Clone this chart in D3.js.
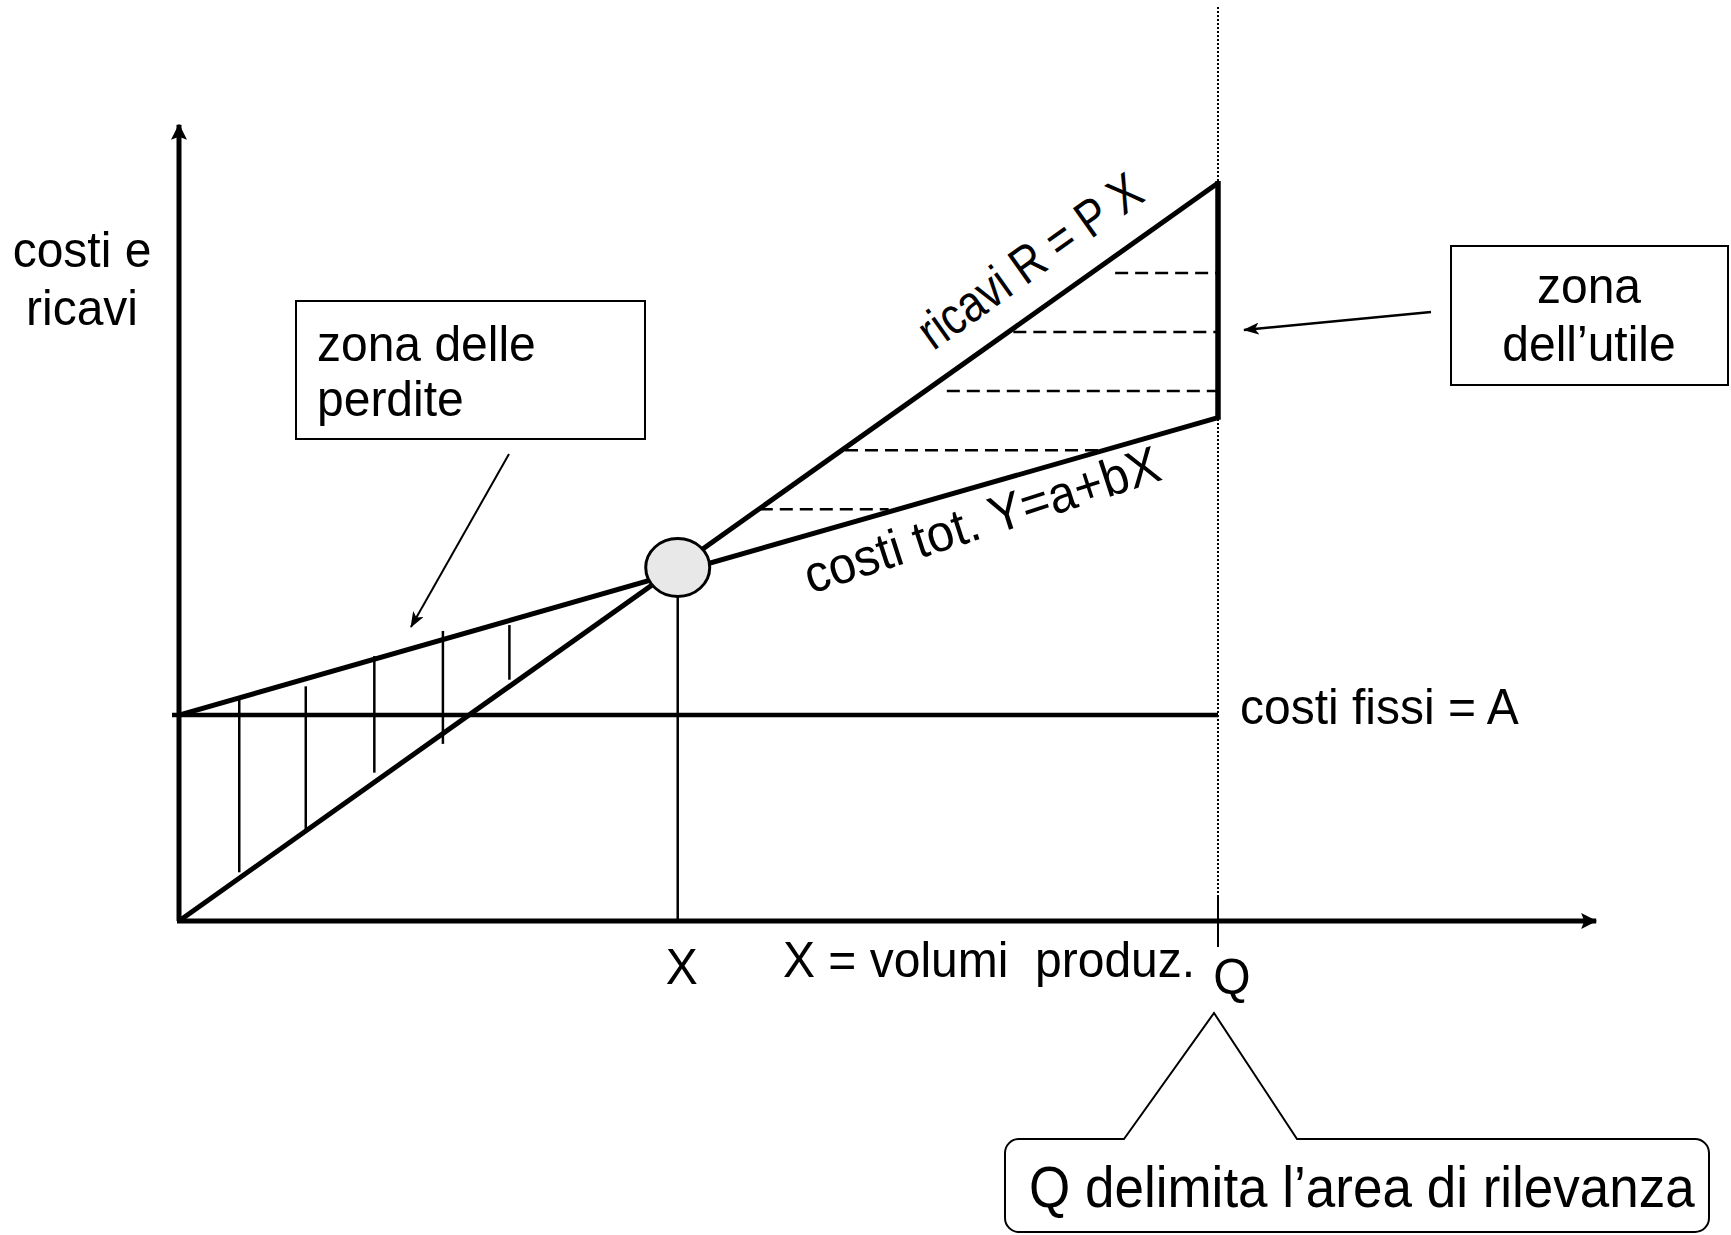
<!DOCTYPE html>
<html>
<head>
<meta charset="utf-8">
<script src="https://cdn.jsdelivr.net/npm/d3@7"></script>
<style>
  body { margin: 0; background: #fff; }
  text { font-family: "Liberation Sans", Arial, sans-serif; fill: #000; white-space: pre; }
</style>
</head>
<body>
<div id="chart"></div>
<script>
// break-even chart, volumes on x and costs / revenues on y (Q = 100)
const Q = 100;
const xEnd = 136.4;       // x axis arrow
const yEnd = 107.9;       // y axis arrow
const fixedCost = 27.9;   // A
const revenue = [[0, 0], [100, 100]];        // R = P X
const totalCost = [[0, 27.9], [100, 68.2]];  // Y = a + bX
const breakEven = [48.0, 47.9];

// vertical strokes in the loss zone
const lossX = [5.8, 12.2, 18.8, 25.4, 31.8];
const lossLow = [6.6, 12.1, 20.1, 24.0, 32.7];
const lossHigh = [30.2, 31.8, 35.9, 39.3, 40.1];

// dashed strokes in the profit zone
const profitY = [87.8, 79.8, 71.8, 63.8, 55.8];
const profitFrom = [90.1, 80.3, 73.9, 64.1, 55.9];
const profitTo = [100, 100, 100, 88.7, 68.3];

// texts
const yLabel = ["costi e", "ricavi"];
const xLabel = "X = volumi  produz.";
const lossLabel = ["zona delle", "perdite"];
const profitLabel = ["zona", "dell\u2019utile"];
const revenueLabel = "ricavi R = P X";
const costLabel = "costi tot. Y=a+bX";
const fixedLabel = "costi fissi = A";
const beLabel = "X";
const qLabel = "Q";
const noteLabel = "Q delimita l\u2019area di rilevanza";

const width = 1731;
const height = 1235;

const svg = d3
  .select("#chart")
  .append("svg")
  .attr("width", width)
  .attr("height", height)
  .attr("viewBox", [0, 0, width, height]);

const x = d3.scaleLinear().domain([0, Q]).range([179, 1218]);
const y = d3.scaleLinear().domain([0, 100]).range([921, 183]);

const defs = svg.append("defs");
defs
  .append("marker")
  .attr("id", "axisHead")
  .attr("viewBox", "0 -8 16 16")
  .attr("refX", 15)
  .attr("refY", 0)
  .attr("markerWidth", 16)
  .attr("markerHeight", 16)
  .attr("markerUnits", "userSpaceOnUse")
  .attr("orient", "auto")
  .append("path")
  .attr("d", "M0,-8L16,0L0,8L3,0Z");
defs
  .append("marker")
  .attr("id", "noteHead")
  .attr("viewBox", "0 -6 16 12")
  .attr("refX", 15)
  .attr("refY", 0)
  .attr("markerWidth", 16)
  .attr("markerHeight", 12)
  .attr("markerUnits", "userSpaceOnUse")
  .attr("orient", "auto")
  .append("path")
  .attr("d", "M0,-6L16,0L0,6L4,0Z");

const line = d3
  .line()
  .x((d) => x(d[0]))
  .y((d) => y(d[1]));

// text helper: the original lettering is a bit narrow
function label(text, px, py, size, anchor = "start", angle = 0, sx = 0.96) {
  svg
    .append("text")
    .attr("transform", `translate(${px},${py}) rotate(${angle}) scale(${sx},1)`)
    .attr("font-size", size)
    .attr("text-anchor", anchor)
    .text(text);
}

// dotted limit at Q
svg
  .append("line")
  .attr("x1", x(Q))
  .attr("x2", x(Q))
  .attr("y1", 7)
  .attr("y2", y(0) - 26)
  .attr("stroke", "#000")
  .attr("stroke-width", 2)
  .attr("stroke-dasharray", "2,2");
svg
  .append("line")
  .attr("x1", x(Q))
  .attr("x2", x(Q))
  .attr("y1", y(0) - 26)
  .attr("y2", y(0) + 26)
  .attr("stroke", "#000")
  .attr("stroke-width", 2);

// axes
svg
  .append("line")
  .attr("x1", x(0))
  .attr("x2", x(0))
  .attr("y1", y(0))
  .attr("y2", y(yEnd))
  .attr("stroke", "#000")
  .attr("stroke-width", 5)
  .attr("marker-end", "url(#axisHead)");
svg
  .append("line")
  .attr("x1", x(0) - 2)
  .attr("x2", x(xEnd))
  .attr("y1", y(0))
  .attr("y2", y(0))
  .attr("stroke", "#000")
  .attr("stroke-width", 5)
  .attr("marker-end", "url(#axisHead)");

// loss zone strokes
svg
  .append("g")
  .selectAll()
  .data(lossX)
  .join("line")
  .attr("x1", (d) => x(d))
  .attr("x2", (d) => x(d))
  .attr("y1", (d, i) => y(lossLow[i]))
  .attr("y2", (d, i) => y(lossHigh[i]))
  .attr("stroke", "#000")
  .attr("stroke-width", 2.5);

// profit zone strokes
svg
  .append("g")
  .selectAll()
  .data(profitY)
  .join("line")
  .attr("x1", (d, i) => x(profitFrom[i]))
  .attr("x2", (d, i) => x(profitTo[i]))
  .attr("y1", (d) => y(d))
  .attr("y2", (d) => y(d))
  .attr("stroke", "#000")
  .attr("stroke-width", 2.5)
  .attr("stroke-dasharray", "13,7");

// fixed costs
svg
  .append("line")
  .attr("x1", x(0) - 7)
  .attr("x2", x(Q))
  .attr("y1", y(fixedCost))
  .attr("y2", y(fixedCost))
  .attr("stroke", "#000")
  .attr("stroke-width", 4.5);

// break-even drop line
svg
  .append("line")
  .attr("x1", x(breakEven[0]))
  .attr("x2", x(breakEven[0]))
  .attr("y1", y(breakEven[1]))
  .attr("y2", y(0))
  .attr("stroke", "#000")
  .attr("stroke-width", 2.5);

// revenue and total costs
svg
  .append("path")
  .attr("d", line(revenue))
  .attr("fill", "none")
  .attr("stroke", "#000")
  .attr("stroke-width", 5);
svg
  .append("path")
  .attr("d", line(totalCost))
  .attr("fill", "none")
  .attr("stroke", "#000")
  .attr("stroke-width", 5);

// profit at Q
svg
  .append("line")
  .attr("x1", x(Q))
  .attr("x2", x(Q))
  .attr("y1", y(revenue[1][1]) - 2)
  .attr("y2", y(totalCost[1][1]) + 2)
  .attr("stroke", "#000")
  .attr("stroke-width", 5.5);

// break-even point
svg
  .append("ellipse")
  .attr("cx", x(breakEven[0]))
  .attr("cy", y(breakEven[1]))
  .attr("rx", 32)
  .attr("ry", 29)
  .attr("fill", "#e8e8e8")
  .attr("stroke", "#000")
  .attr("stroke-width", 3);

// line labels
const revAngle =
  (Math.atan2(y(revenue[1][1]) - y(revenue[0][1]), x(revenue[1][0]) - x(revenue[0][0])) * 180) /
  Math.PI;
label(revenueLabel, x(72.6), y(77.2), 52, "start", revAngle, 0.83);
label(costLabel, x(60.8), y(44.3), 52, "start", -18, 0.94);
label(fixedLabel, x(Q) + 22, y(fixedCost) + 9, 50);
label(beLabel, x(breakEven[0]) + 4, y(0) + 63, 50, "middle");
label(xLabel, 783, y(0) + 56, 50);
label(qLabel, x(Q) + 14, y(0) + 73, 50, "middle");

// y axis title
yLabel.forEach((t, i) => label(t, 82, 267 + i * 58, 50, "middle"));

// loss box
svg
  .append("rect")
  .attr("x", 296)
  .attr("y", 301)
  .attr("width", 349)
  .attr("height", 138)
  .attr("fill", "none")
  .attr("stroke", "#000")
  .attr("stroke-width", 2);
lossLabel.forEach((t, i) => label(t, 317, 361 + i * 55, 50));
svg
  .append("line")
  .attr("x1", 509)
  .attr("y1", 454)
  .attr("x2", 411)
  .attr("y2", 627)
  .attr("stroke", "#000")
  .attr("stroke-width", 2)
  .attr("marker-end", "url(#noteHead)");

// profit box
svg
  .append("rect")
  .attr("x", 1451)
  .attr("y", 246)
  .attr("width", 277)
  .attr("height", 139)
  .attr("fill", "none")
  .attr("stroke", "#000")
  .attr("stroke-width", 2);
profitLabel.forEach((t, i) => label(t, 1589, 303 + i * 58, 50, "middle"));
svg
  .append("line")
  .attr("x1", 1431)
  .attr("y1", 312)
  .attr("x2", 1244)
  .attr("y2", 330)
  .attr("stroke", "#000")
  .attr("stroke-width", 2.5)
  .attr("marker-end", "url(#noteHead)");

// callout pointing at Q
const bx0 = 1005, bx1 = 1709, by0 = 1139, by1 = 1232, r = 14;
const callout = d3.path();
callout.moveTo(1124, by0);
callout.lineTo(x(Q) - 4, 1013);
callout.lineTo(1297, by0);
callout.lineTo(bx1 - r, by0);
callout.arcTo(bx1, by0, bx1, by0 + r, r);
callout.lineTo(bx1, by1 - r);
callout.arcTo(bx1, by1, bx1 - r, by1, r);
callout.lineTo(bx0 + r, by1);
callout.arcTo(bx0, by1, bx0, by1 - r, r);
callout.lineTo(bx0, by0 + r);
callout.arcTo(bx0, by0, bx0 + r, by0, r);
callout.closePath();
svg
  .append("path")
  .attr("d", callout.toString())
  .attr("fill", "#fff")
  .attr("stroke", "#000")
  .attr("stroke-width", 2);
label(noteLabel, 1029, 1207, 57, "start", 0, 0.93);
</script>
</body>
</html>
